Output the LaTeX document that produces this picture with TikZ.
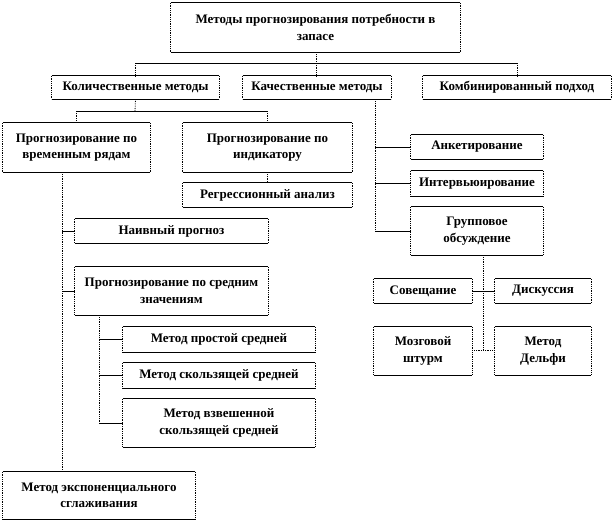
\documentclass[tikz,border=0pt]{standalone}
\usepackage{fontspec}
\setmainfont{Liberation Serif}
\begin{document}
\begin{tikzpicture}[x=1pt,y=-1pt,
  boxtxt/.style={draw=none,align=center,inner sep=0pt,
    font=\fontsize{13}{16.5}\selectfont\bfseries},
  hline/.style={draw=black,line width=0.8pt},
  vline/.style={draw=black,line width=0.8pt,densely dotted},
]
\useasboundingbox (0,0) rectangle (614,522);
\newcommand\bx[6]{% name, cx, cy, w, h, text
  \node[boxtxt,minimum width=#4pt,minimum height=#5pt] (#1) at (#2,#3) {#6};
  \draw[hline] (#1.north west) -- (#1.north east);
  \draw[hline] (#1.south west) -- (#1.south east);
  \draw[vline] (#1.north west) -- (#1.south west);
  \draw[vline] (#1.north east) -- (#1.south east);
}
% boxes
\bx{top}{315.5}{27.5}{289}{49}{Методы прогнозирования потребности в\\ запасе}
\bx{kol}{135.5}{87.5}{167}{23}{Количественные методы}
\bx{kach}{317}{87.5}{148}{23}{Качественные методы}
\bx{komb}{517}{87.5}{188}{23}{Комбинированный подход}
\bx{vr}{76.5}{147.5}{147}{49}{Прогнозирование по\\ временным рядам}
\bx{ind}{267.5}{147.5}{169}{49}{Прогнозирование по\\ индикатору}
\bx{reg}{267.5}{195}{169}{24}{Регрессионный анализ}
\bx{naive}{171.5}{231}{193}{24}{Наивный прогноз}
\bx{sred}{171.5}{291}{193}{48}{Прогнозирование по средним\\ значениям}
\bx{prost}{219}{339.5}{192}{25}{Метод простой средней}
\bx{skol}{219}{375.5}{192}{25}{Метод скользящей средней}
\bx{vzv}{219}{423}{192}{48}{Метод взвешенной\\ скользящей средней}
\bx{expo}{99}{495.5}{192}{47}{Метод экспоненциального\\ сглаживания}
\bx{ank}{477}{147}{132}{24}{Анкетирование}
\bx{intv}{477}{183.5}{132}{25}{Интервьюирование}
\bx{grp}{477}{231}{132}{48}{Групповое\\ обсуждение}
\bx{sov}{423}{291}{98}{24}{Совещание}
\bx{disk}{543}{291}{96}{24}{Дискуссия}
\bx{mozg}{423}{351}{98}{48}{Мозговой\\ штурм}
\bx{delf}{543}{351}{96}{48}{Метод\\ Дельфи}
% junction coordinates
\coordinate (j1) at (316,63);
\coordinate (j2) at (135,111);
\coordinate (jv) at (62,0);
\coordinate (js) at (99,0);
\coordinate (jk) at (375,0);
\coordinate (jg) at (483,350);
% top level
\draw[vline] (top.south -| j1) -- (j1);
\draw[hline] (j1 -| kol) -- (j1 -| komb);
\draw[vline] (j1 -| kol) -- (kol.north);
\draw[vline] (j1) -- (kach.north -| j1);
\draw[vline] (j1 -| komb) -- (komb.north);
% quantitative
\draw[vline] (kol.south) -- (j2);
\draw[hline] (j2 -| vr) -- (j2 -| ind);
\draw[vline] (j2 -| vr) -- (vr.north);
\draw[vline] (j2 -| ind) -- (ind.north);
\draw[vline] (ind.south) -- (reg.north);
\draw[vline] (vr.south -| jv) -- (expo.north -| jv);
\draw[hline] (naive.west -| jv) -- (naive.west);
\draw[hline] (sred.west -| jv) -- (sred.west);
\draw[vline] (sred.south -| js) -- (vzv.west -| js);
\draw[hline] (prost.west -| js) -- (prost.west);
\draw[hline] (skol.west -| js) -- (skol.west);
\draw[hline] (vzv.west -| js) -- (vzv.west);
% qualitative
\draw[vline] (kach.south -| jk) -- (grp.west -| jk);
\draw[hline] (ank.west -| jk) -- (ank.west);
\draw[hline] (intv.west -| jk) -- (intv.west);
\draw[hline] (grp.west -| jk) -- (grp.west);
\draw[vline] (grp.south -| jg) -- (jg);
\draw[hline] (sov.east) -- (disk.west);
\draw[vline] (mozg.east |- jg) -- (delf.west |- jg);
\end{tikzpicture}
\end{document}
